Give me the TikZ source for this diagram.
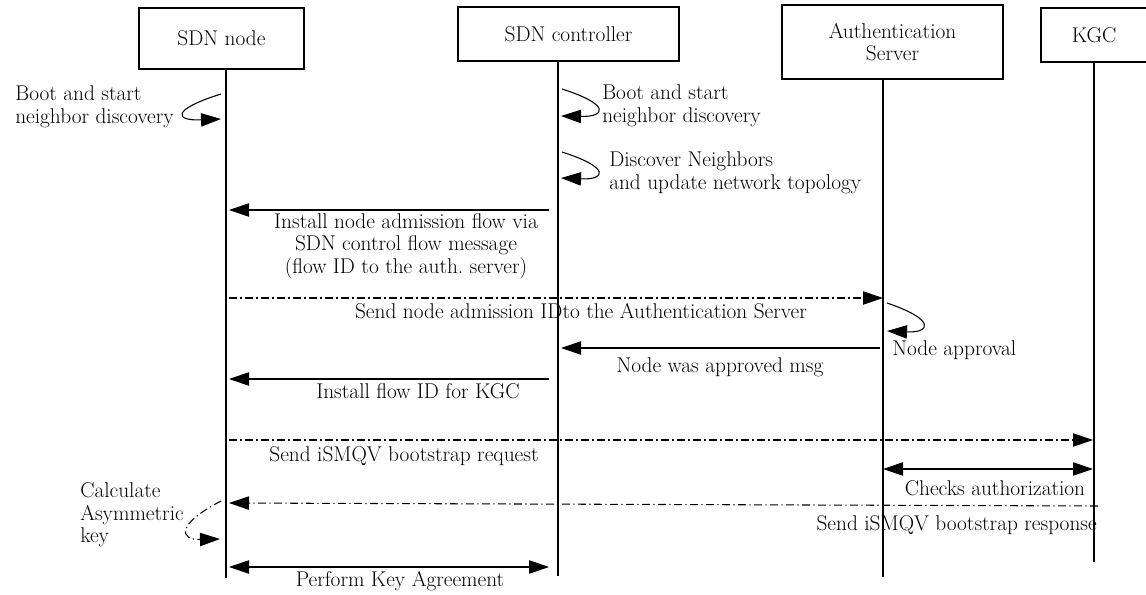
\documentclass[tikz,border=0pt]{standalone}
\usetikzlibrary{arrows.meta}
\newcommand{\seqfont}{\fontsize{16}{17}\selectfont}
\tikzset{
  actor/.style={draw, line width=0.8pt, inner sep=0pt, align=center, font=\seqfont},
  lifeline/.style={line width=0.8pt},
  msg/.style={line width=0.8pt, -{Triangle[length=15pt,width=10pt]}},
  bimsg/.style={line width=0.8pt, {Triangle[length=15pt,width=10pt]}-{Triangle[length=15pt,width=10pt]}},
  dmsg/.style={msg, dash pattern=on 6pt off 2.5pt on 1pt off 2.5pt},
  lbl/.style={inner sep=0pt, align=center, font=\seqfont}
}

\begin{document}
\begin{tikzpicture}[x=0.75pt, y=-0.75pt]
\useasboundingbox (0,0) rectangle (1146,595);

% Participants
\node[actor, minimum width=123.75pt, minimum height=45.75pt] (sdn) at (221.5,38.5) {SDN node};
\node[actor, minimum width=165.75pt, minimum height=40.5pt] (ctrl) at (568.5,34) {SDN controller};
\node[actor, minimum width=165.75pt, minimum height=55.5pt] (auth) at (892.5,42) {Authentication\\Server};
\node[actor, minimum width=79.5pt, minimum height=40.5pt] (kgc) at (1094,35) {KGC};

% Lifelines
\coordinate (sdnTop) at (226,69);   \coordinate (sdnEnd) at (226,578);
\coordinate (ctrlTop) at (558,61);  \coordinate (ctrlEnd) at (558,576);
\coordinate (authTop) at (883,79);  \coordinate (authEnd) at (883,577);
\coordinate (kgcTop) at (1094,62);  \coordinate (kgcEnd) at (1094,562);
\foreach \p in {sdn, ctrl, auth, kgc} {
  \draw[lifeline] (\p Top) -- (\p End);
}

% Self messages
\draw[msg] (221,94) .. controls (170,110) and (175,121) .. (221,119);
\node[lbl, align=left, anchor=east] (bootA) at (174,107) {Boot and start\\neighbor discovery};

\draw[msg] (562,89) .. controls (612,105) and (605,117) .. (561,116);
\node[lbl, align=left, anchor=west] (bootB) at (602,106) {Boot and start\\neighbor discovery};

\draw[msg] (562,152) .. controls (612,168) and (605,180) .. (561,178);
\node[lbl, align=left, anchor=west] (disc) at (609,173) {Discover Neighbors\\and update network topology};

\draw[msg] (887,303) .. controls (937,320) and (930,333) .. (887,331);
\node[lbl, anchor=west] (appr) at (892,350) {Node approval};

\draw[dmsg] (221,501) .. controls (175,525) and (180,540) .. (220,539);
\node[lbl, align=left, anchor=west] (calc) at (80,515) {Calculate\\Asymmetric\\key};

% Message end points
\coordinate (m1a) at (549,210);  \coordinate (m1b) at (229,210);
\coordinate (m2a) at (229,298);  \coordinate (m2b) at (883,298);
\coordinate (m3a) at (880,348);  \coordinate (m3b) at (561,348);
\coordinate (m4a) at (549,379);  \coordinate (m4b) at (229,379);
\coordinate (m5a) at (229,440);  \coordinate (m5b) at (1093,440);
\coordinate (m6a) at (883,469);  \coordinate (m6b) at (1093,469);
\coordinate (m7a) at (1098,506); \coordinate (m7b) at (229,503);
\coordinate (m8a) at (229,567);  \coordinate (m8b) at (549,567);

% Messages
\draw[msg] (m1a) -- (m1b);
\node[lbl] (t1) at (406,246) {Install node admission flow via\\SDN control flow message\\(flow ID to the auth.\ server)};

\draw[dmsg] (m2a) -- (m2b);
\node[lbl] (t2) at (581,311) {Send node admission IDto the Authentication Server};

\draw[msg] (m3a) -- (m3b);
\node[lbl] (t3) at (720,367) {Node was approved msg};

\draw[msg] (m4a) -- (m4b);
\node[lbl] (t4) at (418,391) {Install flow ID for KGC};

\draw[dmsg] (m5a) -- (m5b);
\node[lbl] (t5) at (404,456) {Send iSMQV bootstrap request};

\draw[bimsg] (m6a) -- (m6b);
\node[lbl] (t6) at (995,488) {Checks authorization};

\draw[dmsg] (m7a) -- (m7b);
\node[lbl, anchor=east] (t7) at (1097,525) {Send iSMQV bootstrap response};

\draw[bimsg] (m8a) -- (m8b);
\node[lbl] (t8) at (400,581) {Perform Key Agreement};

\end{tikzpicture}
\end{document}
